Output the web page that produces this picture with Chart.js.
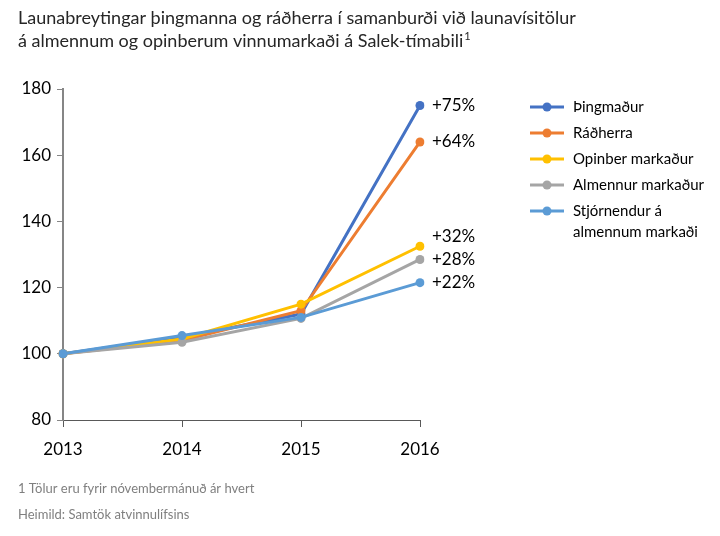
<!DOCTYPE html>
<html><head><meta charset="utf-8">
<script src="https://cdn.jsdelivr.net/npm/chart.js@4"></script>
<style>html,body{margin:0;padding:0;background:#fff}#wrap{width:720px;height:536px;position:relative}</style>
</head><body><div id="wrap"><canvas id="c" width="720" height="536"></canvas></div>
<script>
const categories = ['2013','2014','2015','2016'];
const seriesNames = ['Þingmaður','Ráðherra','Opinber markaður','Almennur markaður','Stjórnendur á almennum markaði'];
const thingmadur = [100, 105, 112, 175];
const radherra = [100, 104, 113, 164];
const opinber = [100, 104.5, 115, 132.5];
const almennur = [100, 103.5, 110.7, 128.5];
const stjornendur = [100, 105.5, 111, 121.5];
const endLabels = ['+75%','+64%','+32%','+28%','+22%'];
const yTicks = [80,100,120,140,160,180];
const colors = ['#4472C4','#ED7D31','#FFC000','#A5A5A5','#5B9BD5'];
const titleLines = ['Launabreytingar þingmanna og ráðherra í samanburði við launavísitölur','á almennum og opinberum vinnumarkaði á Salek-tímabili'];
const notes = ['1 Tölur eru fyrir nóvembermánuð ár hvert','Heimild: Samtök atvinnulífsins'];
const FONT = 'Lato, "Open Sans", sans-serif';
const allData = [thingmadur, radherra, opinber, almennur, stjornendur];
const drawOrder = [4,3,2,1,0];

const datasets = allData.map((d,i)=>({
  label: seriesNames[i], data: d, borderColor: colors[i], backgroundColor: colors[i],
  borderWidth: 3, pointRadius: 4.5, pointHoverRadius: 4.5, pointBorderWidth: 0,
  tension: 0, order: drawOrder[i]
}));

const extras = {
  id: 'extras',
  afterDraw(chart) {
    const ctx = chart.ctx;
    ctx.save();
    ctx.textBaseline = 'alphabetic';
    ctx.fillStyle = '#262626';
    ctx.font = '18px ' + FONT;
    ctx.fillText(titleLines[0], 18, 24);
    ctx.fillText(titleLines[1], 18, 47);
    const w = ctx.measureText(titleLines[1]).width;
    ctx.font = '11px ' + FONT;
    ctx.fillText('1', 18 + w + 1, 40);
    // end labels with simple collision avoidance (bottom-up)
    ctx.font = '17px ' + FONT;
    ctx.fillStyle = '#000';
    ctx.textBaseline = 'middle';
    const x = chart.scales.x, y = chart.scales.y;
    const px = x.getPixelForValue(3);
    const items = allData.map((d,i)=>({i, py: y.getPixelForValue(d[d.length-1])}));
    items.sort((a,b)=>b.py-a.py);
    const gap = 23;
    for (let k=1;k<items.length;k++){
      if (items[k-1].py - items[k].py < gap) items[k].py = items[k-1].py - gap;
    }
    items.forEach(it=>ctx.fillText(endLabels[it.i], px + 12, it.py));
    // legend
    const lx = 530, ly0 = 107, step = 26;
    ctx.font = '15px ' + FONT;
    seriesNames.forEach((n,i)=>{
      const yy = ly0 + i*step;
      ctx.strokeStyle = colors[i]; ctx.lineWidth = 3;
      ctx.beginPath(); ctx.moveTo(lx, yy); ctx.lineTo(lx+34, yy); ctx.stroke();
      ctx.fillStyle = colors[i];
      ctx.beginPath(); ctx.arc(lx+17, yy, 4.5, 0, Math.PI*2); ctx.fill();
      ctx.fillStyle = '#000';
      if (i === 4) {
        ctx.fillText('Stjórnendur á', lx+43, yy);
        ctx.fillText('almennum markaði', lx+43, yy+21);
      } else ctx.fillText(n, lx+43, yy);
    });
    // notes
    ctx.font = '13px ' + FONT;
    ctx.fillStyle = '#7f7f7f';
    ctx.textBaseline = 'alphabetic';
    ctx.fillText(notes[0], 18, 493);
    ctx.fillText(notes[1], 18, 519);
    ctx.restore();
  }
};

new Chart(document.getElementById('c'), {
  type: 'line',
  data: { labels: categories, datasets },
  options: {
    responsive: false, animation: false, devicePixelRatio: 1,
    layout: { padding: { left: 0, right: 300, top: 89, bottom: 0 } },
    plugins: { legend: { display: false }, tooltip: { enabled: false } },
    scales: {
      x: {
        offset: false,
        grid: { display: true, drawOnChartArea: false, drawTicks: true, tickLength: 7, color: '#595959', lineWidth: 1 },
        border: { display: true, color: '#595959', width: 1 },
        ticks: { color: '#000', font: { size: 17, family: FONT }, padding: 12 },
        afterFit(s) { s.height = 116; }
      },
      y: {
        min: 80, max: 180,
        afterBuildTicks(s) { s.ticks = yTicks.map(v=>({value:v})); },
        grid: { display: true, drawOnChartArea: false, drawTicks: true, tickLength: 6, color: '#868686', lineWidth: 1 },
        border: { display: true, color: '#868686', width: 2 },
        ticks: { color: '#000', font: { size: 17, family: FONT }, padding: 6 },
        afterFit(s) { s.width = 63; }
      }
    }
  },
  plugins: [extras]
});
</script></body></html>
